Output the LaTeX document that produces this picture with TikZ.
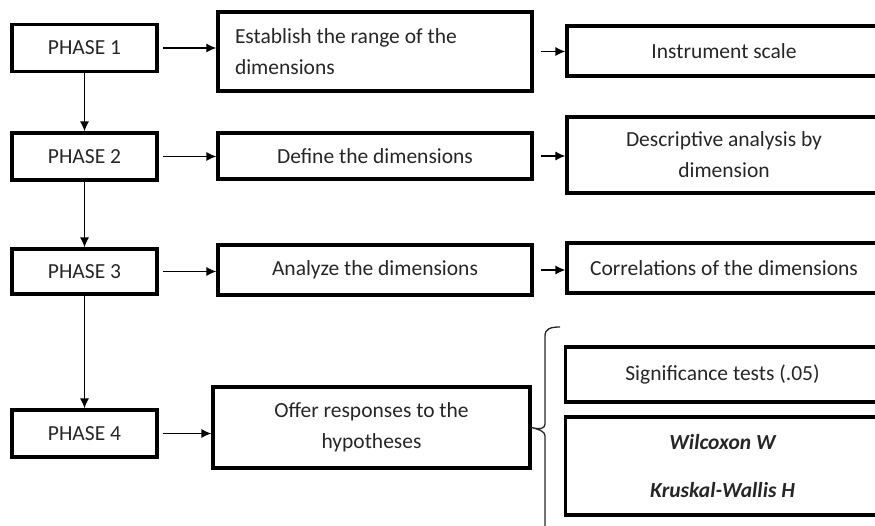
\documentclass[tikz,border=0pt]{standalone}
\usepackage{fontspec}
\setmainfont{Carlito}
\usetikzlibrary{arrows.meta}
\begin{document}
\begin{tikzpicture}[x=1pt, y=-1pt,
  every node/.style={draw, line width=3.2pt, inner sep=0pt, align=center, text=black!85,
    font=\fontsize{21.5}{31}\selectfont},
  phase/.style={minimum width=145pt, minimum height=47pt},
  stage/.style={minimum width=314pt},
  result/.style={minimum width=314pt},
  link/.style={line width=1.3pt, -{Latex[length=10pt, width=9pt]}}]
\useasboundingbox (0,0) rectangle (875,526);
\clip (0,0) rectangle (875,526);
% phases
\node[phase] (p1) at (84.5,48) {PHASE 1};
\node[phase] (p2) at (84.5,156.5) {PHASE 2};
\node[phase, minimum height=45pt] (p3) at (84.5,271.5) {PHASE 3};
\node[phase] (p4) at (84.5,433.5) {PHASE 4};
% stages
\node[stage, minimum height=79pt, text width=280pt, align=flush left] (m1) at (375,51.5)
  {Establish the range of the\\dimensions};
\node[stage, minimum height=46pt] (m2) at (375,156) {Define the dimensions};
\node[stage, minimum height=50pt] (m3) at (375,270) {Analyze the dimensions};
\node[stage, minimum width=317pt, minimum height=81pt] (m4) at (371.5,427.5)
  {Offer responses to the\\hypotheses};
% results
\node[result, minimum height=50pt] (r1) at (724,51) {Instrument scale};
\node[result, minimum height=76pt] (r2) at (724,155) {Descriptive analysis by\\dimension};
\node[result, minimum height=50pt] (r3) at (724,268) {Correlations of the dimensions};
\node[result, minimum height=55pt] (r4) at (722.5,374.5) {Significance tests (.05)};
\node[result, minimum height=98pt] (r5) at (722.5,466)
  {\bfseries\itshape Wilcoxon W\\[17pt]\bfseries\itshape Kruskal-Wallis H};
% phase to phase
\draw[link] (p1.south) -- (p2.north);
\draw[link] (p2.south) -- (p3.north);
\draw[link] (p3.south) -- (p4.north);
% phase to stage
\draw[link, shorten <=4pt] (p1.east) -- (p1.east -| m1.west);
\draw[link, shorten <=4pt] (p2.east) -- (p2.east -| m2.west);
\draw[link, shorten <=4pt] (p3.east) -- (p3.east -| m3.west);
\draw[link, shorten <=4pt] (p4.east) -- (p4.east -| m4.west);
% stage to result
\draw[link, shorten <=7pt] (m1.east) -- (m1.east -| r1.west);
\draw[link, shorten <=7pt] (m2.east) -- (m2.east -| r2.west);
\draw[link, shorten <=7pt] (m3.east) -- (m3.east -| r3.west);
% brace
\draw[line width=1.3pt, black!85] (560,327) .. controls (550,327) and (545,329) .. (545,336)
  -- (545,424) .. controls (545,428) and (541,430) .. (m4.east)
  .. controls (541,430) and (545,432) .. (545,436) -- (545,530);
\end{tikzpicture}
\end{document}
